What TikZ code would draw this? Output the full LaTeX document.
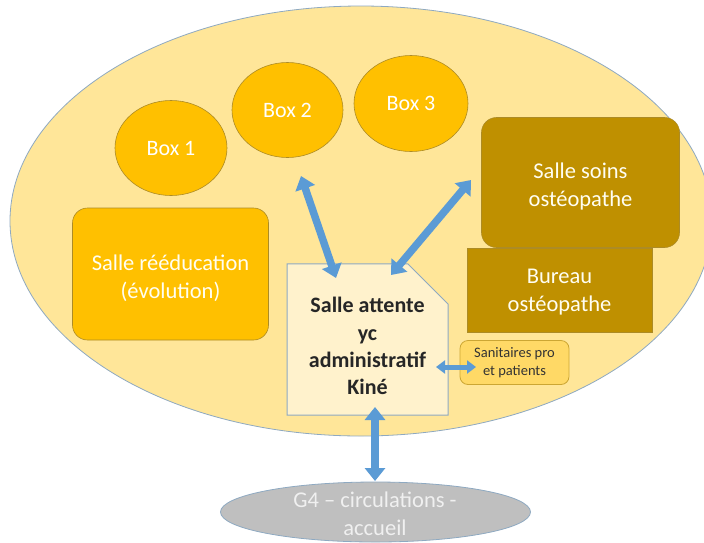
\documentclass[tikz,border=0pt]{standalone}
\usepackage{fontspec}
\setmainfont{Carlito}
\usetikzlibrary{shapes.geometric,shapes.misc,arrows.meta}
\definecolor{zonefill}{HTML}{FFE699}
\definecolor{boxfill}{HTML}{FFC000}
\definecolor{ostfill}{HTML}{BF9000}
\definecolor{waitfill}{HTML}{FFF2CC}
\definecolor{sanfill}{HTML}{FFD966}
\definecolor{flow}{HTML}{5B9BD5}
\definecolor{halledge}{HTML}{8EA9C1}
\tikzset{
  x=1pt, y=-1pt,
  zone/.style={ellipse, draw=halledge, line width=0.8pt, fill=zonefill, inner sep=0pt},
  boxroom/.style={ellipse, draw=ostfill!70!gray, line width=0.6pt, fill=boxfill, inner sep=0pt,
    text=white, font=\fontsize{22}{26}\selectfont},
  room/.style={rectangle, draw=ostfill!70!gray, line width=0.6pt, inner sep=0pt},
  roomtext/.style={align=center, inner sep=0pt, text=white!95!yellow,
    font=\fontsize{22.5}{27.5}\selectfont},
  waitroom/.style={chamfered rectangle, chamfered rectangle corners=north east,
    chamfered rectangle xsep=20pt, chamfered rectangle ysep=20pt,
    draw=halledge, line width=1pt, fill=waitfill, inner sep=0pt, align=center, text=black!85,
    font=\bfseries\fontsize{22}{27.3}\selectfont},
  flowarrow/.style={draw=flow!75!black, line width=7.5pt, color=flow,
    {Triangle[width=20pt,length=13pt]}-{Triangle[width=20pt,length=13pt]}},
}
\begin{document}
\begin{tikzpicture}
\useasboundingbox (0,0) rectangle (704,542);
\fill[white] (0,0) rectangle (704,542);

% surrounding zone
\node[zone, minimum width=702pt, minimum height=430pt] (zone) at (361,221) {};

% boxes
\node[boxroom, minimum width=112pt, minimum height=95pt] (box1) at (171,148) {Box 1};
\node[boxroom, minimum width=111pt, minimum height=95pt] (box2) at (287.5,110) {Box 2};
\node[boxroom, minimum width=114pt, minimum height=96pt] (box3) at (411,103.5) {Box 3};

% rooms
\node[room, rounded corners=15pt, fill=boxfill, minimum width=196pt, minimum height=132pt]
  (reedu) at (170.5,274) {};
\node[roomtext] (reedutext) at (170.5,278) {Salle rééducation\\(évolution)};
\node[room, rounded corners=15pt, fill=ostfill, minimum width=198pt, minimum height=130pt]
  (soins) at (580.5,182.5) {};
\node[roomtext] (soinstext) at (580.5,186.5) {Salle soins\\ostéopathe};
\node[room, fill=ostfill, minimum width=185pt, minimum height=84pt]
  (bureau) at (559.5,290) {};
\node[roomtext] (bureautext) at (559.5,292) {Bureau\\ostéopathe};

% waiting room (a strut on the first line pushes the text a little below centre)
\node[waitroom, minimum width=161pt, minimum height=133pt] (wait) at (367.5,339.5)
  {\rule{0pt}{29pt}Salle attente\\yc\\administratif\\Kiné};

% toilets
\node[rectangle, rounded corners=8pt, draw=ostfill!80!white, line width=0.8pt, fill=sanfill,
  minimum width=109pt, minimum height=44pt, align=center, text=black!80,
  font=\fontsize{14.5}{18}\selectfont] (sani) at (514.5,362.5) {Sanitaires pro\\et patients};

% entrance hall
\node[ellipse, draw=halledge, line width=0.8pt, fill=black!25, minimum width=310pt,
  minimum height=60pt, inner sep=0pt] (hall) at (375.5,512) {};
\node[align=center, inner sep=0pt, text=white!94!black, font=\fontsize{22.5}{28.5}\selectfont]
  (halltext) at (375,514) {G4 – circulations -\\accueil};

% flow anchor points
\coordinate (b2end) at (301,176);
\coordinate (w1end) at (336,278);
\coordinate (soend) at (471,180);
\coordinate (w2end) at (391,275);
\coordinate (wsend) at (436,367);
\coordinate (saend) at (476,367);
\coordinate (wbend) at (375,407);
\coordinate (haend) at (375,481);

% flows
\draw[flowarrow] (b2end) -- (w1end);
\draw[flowarrow] (soend) -- (w2end);
\draw[flowarrow, line width=5pt, {Triangle[width=13pt,length=9pt]}-{Triangle[width=13pt,length=9pt]}]
  (wsend) -- (saend);
\draw[flowarrow] (wbend) -- (haend);
\end{tikzpicture}
\end{document}
